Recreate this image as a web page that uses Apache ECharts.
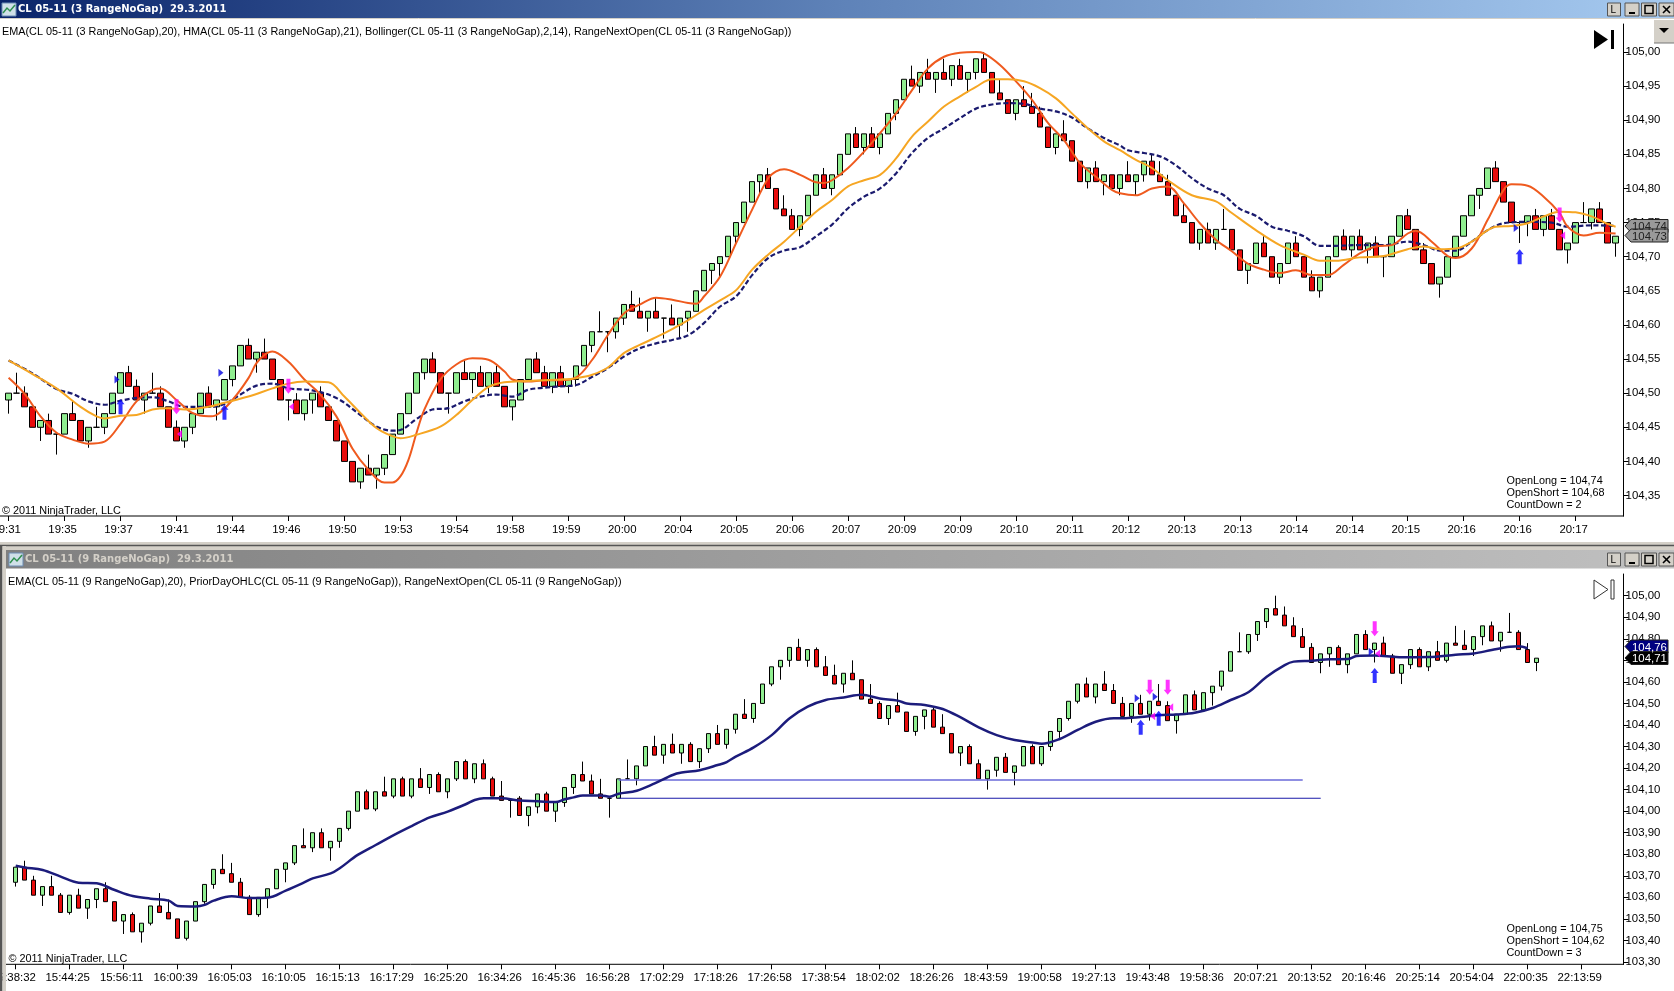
<!DOCTYPE html>
<html><head><meta charset="utf-8"><title>CL 05-11</title>
<style>html,body{margin:0;padding:0;background:#fff}#c{width:1674px;height:991px}</style>
<script src="https://cdn.jsdelivr.net/npm/echarts@6/dist/echarts.min.js"></script>
</head><body><div id="c"></div>
<script>
// Range bars as [open, close, wickEnd]; cents above the base price. wickEnd omitted when the bar has no wick.
const topBase = 104;
const topBars = [[49,50,47],[50,50,53],[50,48,51],[48,45],[45,46,43],[46,44,47],[44,44,41],[44,47],[47,46,49],[46,43],
[43,45,42],[45,45,48],[45,47,44],[47,50],[50,53],[53,51,54],[51,49,52],[49,50,47],[50,50,53],[50,48,51],
[48,45],[45,43,46],[43,45,42],[45,47,44],[47,50],[50,48,51],[48,49,46],[49,52],[52,54,51],[54,57],
[57,55,58],[55,56,53],[56,55,58],[55,52],[52,49],[49,49,46],[49,47,50],[47,49,46],[49,50,47],[50,48,51],
[48,46],[46,43],[43,40],[40,37],[37,39,36],[39,38,41],[38,39,36],[39,41,38],[41,44],[44,47],
[47,50],[50,53],[53,55,52],[55,53,56],[53,50],[50,50,47],[50,53],[53,52,55],[52,53,50],[53,51,54],
[51,53,50],[53,51,54],[51,48],[48,49,46],[49,52],[52,55],[55,53,56],[53,51,54],[51,53,50],[53,51,54],
[51,52,50],[52,54,51],[54,57],[57,59,56],[59,59,62],[59,59,56],[59,61,58],[61,63,60],[63,62,65],[62,61,64],
[61,62,59],[62,61,64],[61,61,58],[61,60,63],[60,61,58],[61,62,59],[62,65],[65,68],[68,69,66],[69,70,67],
[70,73],[73,75,72],[75,78],[78,81],[81,82,79],[82,80,83],[80,77],[77,76,79],[76,74,77],[74,76,73],
[76,79],[79,82],[82,80,83],[80,82,79],[82,85],[85,88],[88,86,89],[86,88,85],[88,86,89],[86,88,85],
[88,91],[91,93,90],[93,96],[96,95,98],[95,97,94],[97,96,99],[96,97,94],[97,96,99],[96,98,95],[98,96,99],
[96,97,94],[97,99,96],[99,97,100],[97,94],[94,93,96],[93,91],[91,93,90],[93,92,95],[92,91,94],[91,89,92],
[89,86],[86,88,85],[88,87,90],[87,84],[84,81],[81,83,80],[83,81,84],[81,82,79],[82,80],[80,82,79],
[82,81,84],[81,82,79],[82,84,81],[84,82,85],[82,81,84],[81,79,82],[79,76],[76,75,78],[75,72],[72,74,71],
[74,72,75],[72,74,71],[74,74,77],[74,71],[71,68],[68,69,66],[69,72],[72,70,73],[70,67],[67,69,66],
[69,72],[72,70,73],[70,67],[67,65,68],[65,67,64],[67,70],[70,73],[73,71,74],[71,73,70],[73,71,74],
[71,72,69],[72,70,73],[70,70,67],[70,73],[73,76],[76,74,77],[74,71],[71,69,72],[69,66],[66,67,64],
[67,70],[70,73],[73,76],[76,79],[79,80,77],[80,83],[83,81,84],[81,78],[78,75],[75,75,72],
[75,76,73],[76,74,77],[74,76,73],[76,74,77],[74,71],[71,72,69],[72,75],[75,75,78],[75,77,74],[77,75,78],
[75,72],[72,73,70]];
const botBase = 103;
const botBars = [[67,74,65],[74,68,77],[68,61,70],[61,65,56],[65,61,70],[61,53,62],[53,61,52],[61,55,64],[55,59,50],[59,64,55],
[64,58,67],[58,49],[49,52,43],[52,44,53],[44,48,39],[48,56,47],[56,53,62],[53,50,59],[50,41],[41,49,40],
[49,58],[58,66,57],[66,73,64],[73,71,80],[71,67,76],[67,60,69],[60,52,61],[52,60,51],[60,64,55],[64,73],
[73,76,67],[76,84,75],[84,83,92],[83,90,81],[90,83,92],[83,86,77],[86,92,83],[92,100,91],[100,109],[109,101,110],
[101,109,100],[109,107,116],[107,115,106],[115,107,116],[107,115,106],[115,111,120],[111,117,108],[117,109,118],[109,115,106],[115,123,114],
[123,115,124],[115,122,113],[122,115,124],[115,107,116],[107,105,114],[105,105,97],[106,98,107],[98,102,93],[102,108,99],[108,100,109],
[100,104,95],[104,111,102],[111,117,108],[117,114,123],[114,108,117],[108,106,115],[106,106,97],[106,115],[115,115,124],[115,121,112],
[121,130],[130,126,135],[126,131,122],[131,127,136],[127,131,122],[131,123,132],[123,129,120],[129,136,127],[136,131,140],[131,138,129],
[138,145,136],[145,143,152],[143,150,141],[150,159],[159,167,158],[167,170,161],[170,176,167],[176,170,180],[170,175,167],[175,167,176],
[167,163,172],[163,159,168],[159,164,155],[164,161,170],[161,152],[152,150,159],[150,143,151],[143,149,140],[149,146,155],[146,137],
[137,144,135],[144,147,138],[147,139,148],[139,136,145],[136,127],[127,130,121],[130,122,131],[122,115,124],[115,119,110],[119,125,116],
[125,118,127],[118,121,112],[121,130],[130,122,131],[122,130,121],[130,137,128],[137,143,134],[143,151,142],[151,159,150],[159,153,162],
[153,159,150],[159,156,165],[156,150,159],[150,144,153],[144,150,141],[150,145,154],[145,151,142],[151,149,159],[149,142,151],[142,145,136],
[145,154],[154,147,156],[147,155],[155,158,149],[158,165,156],[165,174],[174,174,183],[174,182,173],[182,188,179],[188,194,185],
[194,191,200],[191,186,195],[186,181,190],[181,176,185],[176,169,178],[169,173,164],[173,176,167],[176,168,177],[168,173,164],[173,182],
[182,175,184],[175,178,169],[178,172,181],[172,164,173],[164,168,159],[168,175,166],[175,167,176],[167,174,165],[174,170,179],[170,178,169],
[178,177,186],[177,175,184],[175,181,172],[181,186,177],[186,179,188],[179,183,174],[183,183,192],[183,175,184],[175,169,178],[169,171,165]];

// Indicator lines as [bar index, price]
const hmaTop = [[0,104.5225],[2,104.499],[4,104.466],[6,104.442],[8,104.432],[10,104.426],[12,104.429],[14,104.455],[16,104.488],[18,104.505],[19,104.507],[21,104.49],[23,104.471],[25,104.466],[26,104.468],[28,104.49],[30,104.522],[31,104.544],[32,104.556],[33,104.561],[35,104.546],[37,104.52],[39,104.498],[41,104.466],[43,104.419],[45,104.388],[47,104.369],[48,104.369],[49,104.378],[50,104.402],[51,104.441],[52,104.476],[54,104.52],[56,104.542],[58,104.551],[60,104.549],[62,104.532],[63,104.52],[65,104.517],[67,104.519],[69,104.519],[71,104.523],[73,104.549],[75,104.586],[77,104.617],[79,104.63],[81,104.64],[83,104.637],[85,104.632],[86,104.631],[87,104.642],[89,104.671],[91,104.72],[93,104.769],[95,104.815],[96,104.825],[97,104.828],[99,104.82],[101,104.809],[102,104.808],[103,104.812],[105,104.83],[107,104.854],[109,104.881],[111,104.91],[113,104.944],[115,104.976],[117,104.993],[119,104.999],[121,105],[122,104.998],[124,104.981],[126,104.957],[128,104.93],[130,104.896],[132,104.871],[134,104.837],[136,104.817],[138,104.798],[139,104.793],[141,104.79],[143,104.80],[145,104.803],[147,104.778],[149,104.749],[151,104.725],[153,104.708],[155,104.69],[157,104.681],[159,104.676],[161,104.68],[163,104.673],[165,104.673],[167,104.688],[169,104.705],[171,104.715],[173,104.717],[175,104.734],[176,104.738],[178,104.722],[180,104.701],[181,104.698],[183,104.712],[185,104.754],[187,104.798],[188,104.806],[190,104.804],[192,104.788],[194,104.764],[195,104.744],[197,104.731],[199,104.735],[201,104.734]];
const bollTop = [[0,104.548],[3,104.528],[6,104.507],[9,104.48],[11,104.466],[12,104.463],[14,104.467],[16,104.468],[18,104.476],[20,104.478],[22,104.476],[25,104.48],[27,104.486],[30,104.495],[33,104.507],[35,104.514],[37,104.517],[40,104.516],[42,104.495],[44,104.471],[46,104.449],[48,104.437],[49,104.434],[51,104.439],[54,104.451],[56,104.468],[58,104.49],[60,104.509],[62,104.516],[65,104.518],[67,104.519],[69,104.52],[71,104.522],[73,104.527],[75,104.538],[77,104.559],[79,104.571],[81,104.582],[83,104.594],[85,104.607],[87,104.622],[89,104.636],[91,104.651],[93,104.681],[95,104.703],[97,104.722],[99,104.744],[101,104.766],[103,104.783],[105,104.803],[107,104.812],[109,104.82],[111,104.844],[113,104.876],[115,104.898],[117,104.92],[119,104.935],[121,104.949],[123,104.96],[125,104.96],[127,104.957],[129,104.947],[131,104.932],[133,104.91],[135,104.888],[137,104.869],[139,104.856],[141,104.842],[143,104.83],[145,104.812],[148,104.79],[151,104.781],[153,104.764],[156,104.739],[159,104.717],[162,104.703],[164,104.694],[166,104.694],[169,104.699],[172,104.701],[175,104.711],[177,104.715],[179,104.711],[181,104.712],[183,104.722],[186,104.744],[188,104.745],[190,104.749],[192,104.759],[194,104.766],[196,104.765],[198,104.759],[200,104.748],[201,104.744]];
const emaTop = [[0,104.548],[3,104.529],[6,104.506],[8,104.499],[10,104.488],[12,104.483],[14,104.489],[16,104.493],[18,104.494],[20,104.488],[22,104.48],[25,104.48],[27,104.484],[29,104.498],[31,104.511],[33,104.514],[35,104.507],[38,104.504],[41,104.493],[44,104.468],[46,104.451],[48,104.445],[49,104.446],[51,104.462],[53,104.476],[55,104.478],[57,104.488],[59,104.495],[61,104.498],[63,104.495],[65,104.505],[67,104.508],[69,104.51],[71,104.512],[73,104.524],[75,104.537],[77,104.554],[79,104.566],[81,104.573],[83,104.578],[85,104.585],[87,104.603],[89,104.627],[91,104.642],[93,104.673],[95,104.698],[97,104.709],[99,104.714],[101,104.73],[103,104.747],[105,104.771],[107,104.788],[109,104.8],[111,104.822],[113,104.852],[115,104.874],[117,104.888],[119,104.903],[121,104.917],[123,104.923],[125,104.925],[127,104.924],[129,104.917],[131,104.913],[133,104.904],[135,104.888],[137,104.874],[139,104.863],[140,104.856],[142,104.852],[144,104.847],[146,104.834],[148,104.815],[150,104.8],[152,104.79],[154,104.77],[156,104.76],[158,104.744],[160,104.738],[162,104.73],[164,104.716],[166,104.716],[169,104.717],[172,104.717],[175,104.722],[177,104.717],[179,104.709],[181,104.709],[183,104.722],[185,104.739],[187,104.749],[190,104.751],[193,104.75],[195,104.744],[198,104.746],[201,104.745]];
const emaBot = [[0,103.747],[1,103.739],[3,103.727],[5,103.696],[7,103.668],[9,103.665],[11,103.634],[13,103.606],[15,103.594],[17,103.585],[18,103.56],[20,103.558],[21,103.565],[22,103.585],[24,103.605],[26,103.597],[28,103.598],[30,103.631],[32,103.668],[33,103.688],[35,103.711],[36,103.735],[38,103.797],[40,103.843],[42,103.889],[44,103.931],[46,103.971],[48,103.998],[50,104.032],[51,104.052],[52,104.06],[54,104.06],[56,104.049],[58,104.046],[60,104.042],[61,104.055],[62,104.064],[63,104.073],[65,104.073],[66,104.067],[67,104.081],[69,104.095],[71,104.129],[73,104.168],[74,104.179],[76,104.19],[78,104.214],[79,104.228],[80,104.253],[82,104.296],[84,104.353],[86,104.431],[88,104.485],[90,104.516],[92,104.528],[94,104.54],[96,104.523],[98,104.513],[99,104.50],[101,104.493],[103,104.474],[105,104.435],[107,104.389],[109,104.353],[111,104.33],[113,104.319],[114,104.313],[116,104.335],[118,104.377],[120,104.415],[122,104.431],[123,104.431],[125,104.437],[127,104.445],[129,104.449],[131,104.457],[133,104.479],[135,104.516],[137,104.553],[139,104.624],[141,104.678],[142,104.694],[144,104.698],[146,104.705],[148,104.706],[149,104.72],[151,104.722],[153,104.717],[154,104.714],[157,104.715],[160,104.726],[162,104.732],[164,104.748],[166,104.763],[167,104.765],[168,104.756]];
const priorHigh = [[67,104.145],[143,104.145]];
const priorLow = [[67,104.06],[145,104.06]];

// Signal markers as [bar index, price]
const topUp = [[14,104.48],[27,104.472],[189,104.70]];
const topDown = [[21,104.48],[35,104.51],[194,104.761]];
const topEntry = [[14,104.52],[27,104.53],[189,104.742]];
const topExit = [[21,104.44],[35,104.48],[194,104.731]];
const botUp = [[125,104.389],[127,104.431],[151,104.63]];
const botDown = [[126,104.575],[128,104.575],[151,104.847]];
const botEntry = [[125,104.524],[127,104.531],[151,104.74]];
const botExit = [[126,104.44],[128,104.482],[151,104.732]];

// Axis labels
const topTimes = ['19:31','19:35','19:37','19:41','19:44','19:46','19:50','19:53','19:54','19:58','19:59','20:00','20:04','20:05','20:06','20:07','20:09','20:09','20:10','20:11','20:12','20:13','20:13','20:14','20:14','20:15','20:16','20:16','20:17'];
const botTimes = ['15:38:32','15:44:25','15:56:11','16:00:39','16:05:03','16:10:05','16:15:13','16:17:29','16:25:20','16:34:26','16:45:36','16:56:28','17:02:29','17:18:26','17:26:58','17:38:54','18:02:02','18:26:26','18:43:59','19:00:58','19:27:13','19:43:48','19:58:36','20:07:21','20:13:52','20:16:46','20:25:14','20:54:04','22:00:35','22:13:59'];
const topTicks = [104.35,104.40,104.45,104.50,104.55,104.60,104.65,104.70,104.75,104.80,104.85,104.90,104.95,105.00];
const botTicks = [103.3,103.4,103.5,103.6,103.7,103.8,103.9,104.0,104.1,104.2,104.3,104.4,104.5,104.6,104.7,104.8,104.9,105.0];

const FONT = '"Liberation Sans", Arial, sans-serif';
const toCandle = (bars, base) => bars.map(b => {
  const o = b[0], c = b[1], w = b.length > 2 ? b[2] : o;
  const lo = Math.min(o, c, w), hi = Math.max(o, c, w);
  return [base + o / 100, base + c / 100, base + lo / 100, base + hi / 100].map(v => +v.toFixed(2));
});
const cats = (labels, step, n) => Array.from({length: n}, (_, i) => i % step === 0 && labels[i / step] ? labels[i / step] : ' ');

const UP = 'path://M4,0 L8,5 L6,5 L6,15 L2,15 L2,5 L0,5 Z';
const DOWN = 'path://M2,0 L6,0 L6,10 L8,10 L4,15 L0,10 L2,10 Z';
const xAxisOf = (gi, data, step) => ({
  type: 'category', gridIndex: gi, data, boundaryGap: false,
  axisLine: {show: false},
  axisTick: {show: true, alignWithLabel: true, interval: step - 1, length: 5, lineStyle: {color: '#000'}},
  axisLabel: {interval: step - 1, color: '#000', fontFamily: FONT, fontSize: 11.4, margin: 7, padding: [1, 4, 0, 0]},
  splitLine: {show: false}
});
const yAxisOf = (gi, min, max, ticks, off) => ({
  type: 'value', gridIndex: gi, position: 'right', min, max, offset: off, scale: true,
  axisLine: {show: true, onZero: false, lineStyle: {color: '#000'}},
  axisTick: {show: true, length: 5, customValues: ticks, lineStyle: {color: '#000'}},
  axisLabel: {customValues: ticks, color: '#000', fontFamily: FONT, fontSize: 11.4, margin: 2, padding: [2, 0, 0, 0], formatter: v => v.toFixed(2).replace('.', ',')},
  splitLine: {show: false}
});
const line = (gi, data, color, width, type, z) => ({
  type: 'line', xAxisIndex: gi, yAxisIndex: gi, data, showSymbol: false, symbol: 'none', smooth: 0.35,
  lineStyle: {color, width, type}, z, silent: true, animation: false, clip: false
});
const straight = (gi, data, color, width) => Object.assign(line(gi, data, color, width, 'solid', 3), {smooth: false});
const marks = (gi, data, symbol, size, color, rotate, off) => ({
  type: 'scatter', xAxisIndex: gi, yAxisIndex: gi, data, symbol, symbolSize: size, symbolRotate: rotate || 0,
  symbolOffset: [off || 0, 0], itemStyle: {color}, z: 6, silent: true, animation: false, clip: false
});
const candles = (gi, data, w) => ({
  type: 'candlestick', xAxisIndex: gi, yAxisIndex: gi, data, barWidth: w, clip: false, z: 2, silent: true, animation: false,
  itemStyle: {color: '#90ee90', color0: '#e80c0c', borderColor: '#000', borderColor0: '#000', borderColorDoji: '#000', borderWidth: 1}
});

// Window furniture
const rect = (x, y, w, h, fill, extra) => Object.assign({type: 'rect', z: 100, silent: true, shape: {x, y, width: w, height: h}, style: {fill}}, extra || {});
const txt = (x, y, text, font, fill, extra) => ({type: 'text', z: 101, silent: true, style: Object.assign({x, y, text, font, fill, textVerticalAlign: 'middle'}, extra || {})});
const seg = (x1, y1, x2, y2, stroke, w) => ({type: 'line', z: 100, silent: true, shape: {x1, y1, x2, y2}, style: {stroke, lineWidth: w || 1}});
const poly = (points, fill, stroke) => ({type: 'polygon', z: 100, silent: true, shape: {points}, style: {fill, stroke: stroke || null, lineWidth: 1}});
const grad = (a, m, b) => new echarts.graphic.LinearGradient(0, 0, 1, 0, [{offset: 0, color: a}, {offset: .5, color: m}, {offset: 1, color: b}]);
const sm = '10.85px ' + FONT, bold = 'bold 10px "DejaVu Sans", sans-serif';
const buttons = y => {
  const f = '#d4d0c8', out = [];
  [[1607.5, 13], [1625, 14], [1641.5, 15], [1659, 15]].forEach(b => out.push(rect(b[0], y, b[1], 13, f, {style: {fill: f, stroke: '#555', lineWidth: 1}})));
  out.push(txt(1610.5, y + 7, 'L', '10px ' + FONT, '#000'));
  out.push(seg(1629, y + 10, 1635, y + 10, '#000', 2));
  out.push(rect(1645, y + 2.5, 8, 8, 'none', {style: {fill: 'none', stroke: '#000', lineWidth: 1.5}}));
  out.push(seg(1663, y + 3, 1670, y + 10, '#000', 1.6), seg(1670, y + 3, 1663, y + 10, '#000', 1.6));
  return out;
};
const icon = (x, y) => [rect(x, y, 14, 13, '#d0e0e8', {style: {fill: '#d0e0e8', stroke: '#6c8cb4', lineWidth: 1}}),
  {type: 'polyline', z: 101, silent: true, shape: {points: [[x + 1, y + 10], [x + 5, y + 5], [x + 8, y + 8], [x + 13, y + 2]]}, style: {stroke: '#2f8f4f', fill: null, lineWidth: 1.5}}];
const tag = (y, label, fill, color) => [
  poly([[1625, y + 6.5], [1631, y], [1668, y], [1668, y + 13], [1631, y + 13]], fill, '#222'),
  txt(1632, y + 7.5, label, '11.4px ' + FONT, color)
];

const graphicEls = [].concat(
  [rect(0, 0, 1674, 18, grad('#0a246a', '#5e82b8', '#a6caf0')), seg(0, 18.5, 1674, 18.5, '#d4d0c8')],
  icon(2, 3),
  [txt(18, 9.5, 'CL 05-11 (3 RangeNoGap)  29.3.2011', bold, '#fff')],
  buttons(3),
  [txt(2, 32, 'EMA(CL 05-11 (3 RangeNoGap),20), HMA(CL 05-11 (3 RangeNoGap),21), Bollinger(CL 05-11 (3 RangeNoGap),2,14), RangeNextOpen(CL 05-11 (3 RangeNoGap))', sm, '#000')],
  [poly([[1594, 30], [1594, 49], [1608, 39.5]], '#000'), rect(1611, 30, 3, 19, '#000')],
  [rect(1654, 20, 20, 23, '#d4d0c8'), seg(1654, 43, 1674, 43, '#777', 1), poly([[1659, 28], [1669, 28], [1664, 33]], '#000')],
  [seg(0, 516, 1624, 516, '#000')],
  [txt(2, 511, '© 2011 NinjaTrader, LLC', sm, '#000'),
   txt(1506.5, 481, 'OpenLong = 104,74', sm, '#000'), txt(1506.5, 493, 'OpenShort = 104,68', sm, '#000'), txt(1506.5, 505, 'CountDown = 2', sm, '#000')],
  tag(219.5, '104,74', '#999', '#222'), tag(229, '104,73', '#999', '#222'),
  [rect(0, 542, 1674, 8, '#d4d0c8'), seg(0, 545.5, 1674, 545.5, '#555', 1.5), rect(0, 545, 2.5, 446, '#555'), rect(2.5, 546, 3.5, 445, '#d4d0c8'),
   rect(6, 550, 1668, 18.5, grad('#808080', '#a0a0a0', '#c0c0c0'))],
  icon(9, 553),
  [txt(25, 559.5, 'CL 05-11 (9 RangeNoGap)  29.3.2011', bold, '#d4d0c8')],
  buttons(553),
  [txt(8, 582, 'EMA(CL 05-11 (9 RangeNoGap),20), PriorDayOHLC(CL 05-11 (9 RangeNoGap)), RangeNextOpen(CL 05-11 (9 RangeNoGap))', sm, '#000')],
  [poly([[1594, 580], [1594, 599], [1608, 589.5]], '#fff', '#333'), {type: 'rect', z: 100, silent: true, shape: {x: 1611, y: 580, width: 3, height: 19}, style: {fill: '#fff', stroke: '#333', lineWidth: 1}}],
  [seg(6, 964.3, 1624, 964.3, '#000')],
  [txt(8.5, 959, '© 2011 NinjaTrader, LLC', sm, '#000'),
   txt(1506.5, 929, 'OpenLong = 104,75', sm, '#000'), txt(1506.5, 941, 'OpenShort = 104,62', sm, '#000'), txt(1506.5, 953, 'CountDown = 3', sm, '#000')],
  tag(640, '104,76', '#000080', '#fff'), tag(651.5, '104,71', '#000', '#fff')
);

const chart = echarts.init(document.getElementById('c'), null, {renderer: 'canvas'});
chart.setOption({
  animation: false, backgroundColor: '#fff',
  grid: [
    {left: 8.6, top: 24, width: 1615, height: 492, containLabel: false, outerBoundsMode: 'none'},
    {left: 15.7, top: 574, width: 1611, height: 390.3, containLabel: false, outerBoundsMode: 'none'}
  ],
  xAxis: [xAxisOf(0, cats(topTimes, 7, 203), 7), xAxisOf(1, cats(botTimes, 6, 180), 6)],
  yAxis: [yAxisOf(0, 104.320, 105.041, topTicks, 0), yAxisOf(1, 103.2893, 105.1007, botTicks, -3.2)],
  series: [
    candles(0, toCandle(topBars, topBase), 6),
    line(0, emaTop, '#1a1a6e', 2.2, [5, 2.5], 3),
    line(0, hmaTop, '#ef5a1e', 2, 'solid', 4),
    line(0, bollTop, '#f6a623', 2, 'solid', 5),
    marks(0, topUp, UP, [8, 15], '#0000ff'),
    marks(0, topDown, DOWN, [8, 15], '#ff00ff'),
    marks(0, topEntry, 'triangle', [8, 5], '#0000e0', -90, -3.5),
    marks(0, topExit, 'triangle', [8, 5], '#ff00ff', 90, 3),
    candles(1, toCandle(botBars, botBase), 5),
    straight(1, priorHigh, '#6a6ad8', 1.5),
    straight(1, priorLow, '#1a1aa8', 1.2),
    line(1, emaBot, '#1c1c7c', 2.5, 'solid', 4),
    marks(1, botUp, UP, [8, 15], '#0000ff'),
    marks(1, botDown, DOWN, [8, 15], '#ff00ff'),
    marks(1, botEntry, 'triangle', [8, 5], '#0000e0', -90, -3.5),
    marks(1, botExit, 'triangle', [8, 5], '#ff00ff', 90, 3)
  ],
  graphic: {elements: graphicEls}
});
</script></body></html>
